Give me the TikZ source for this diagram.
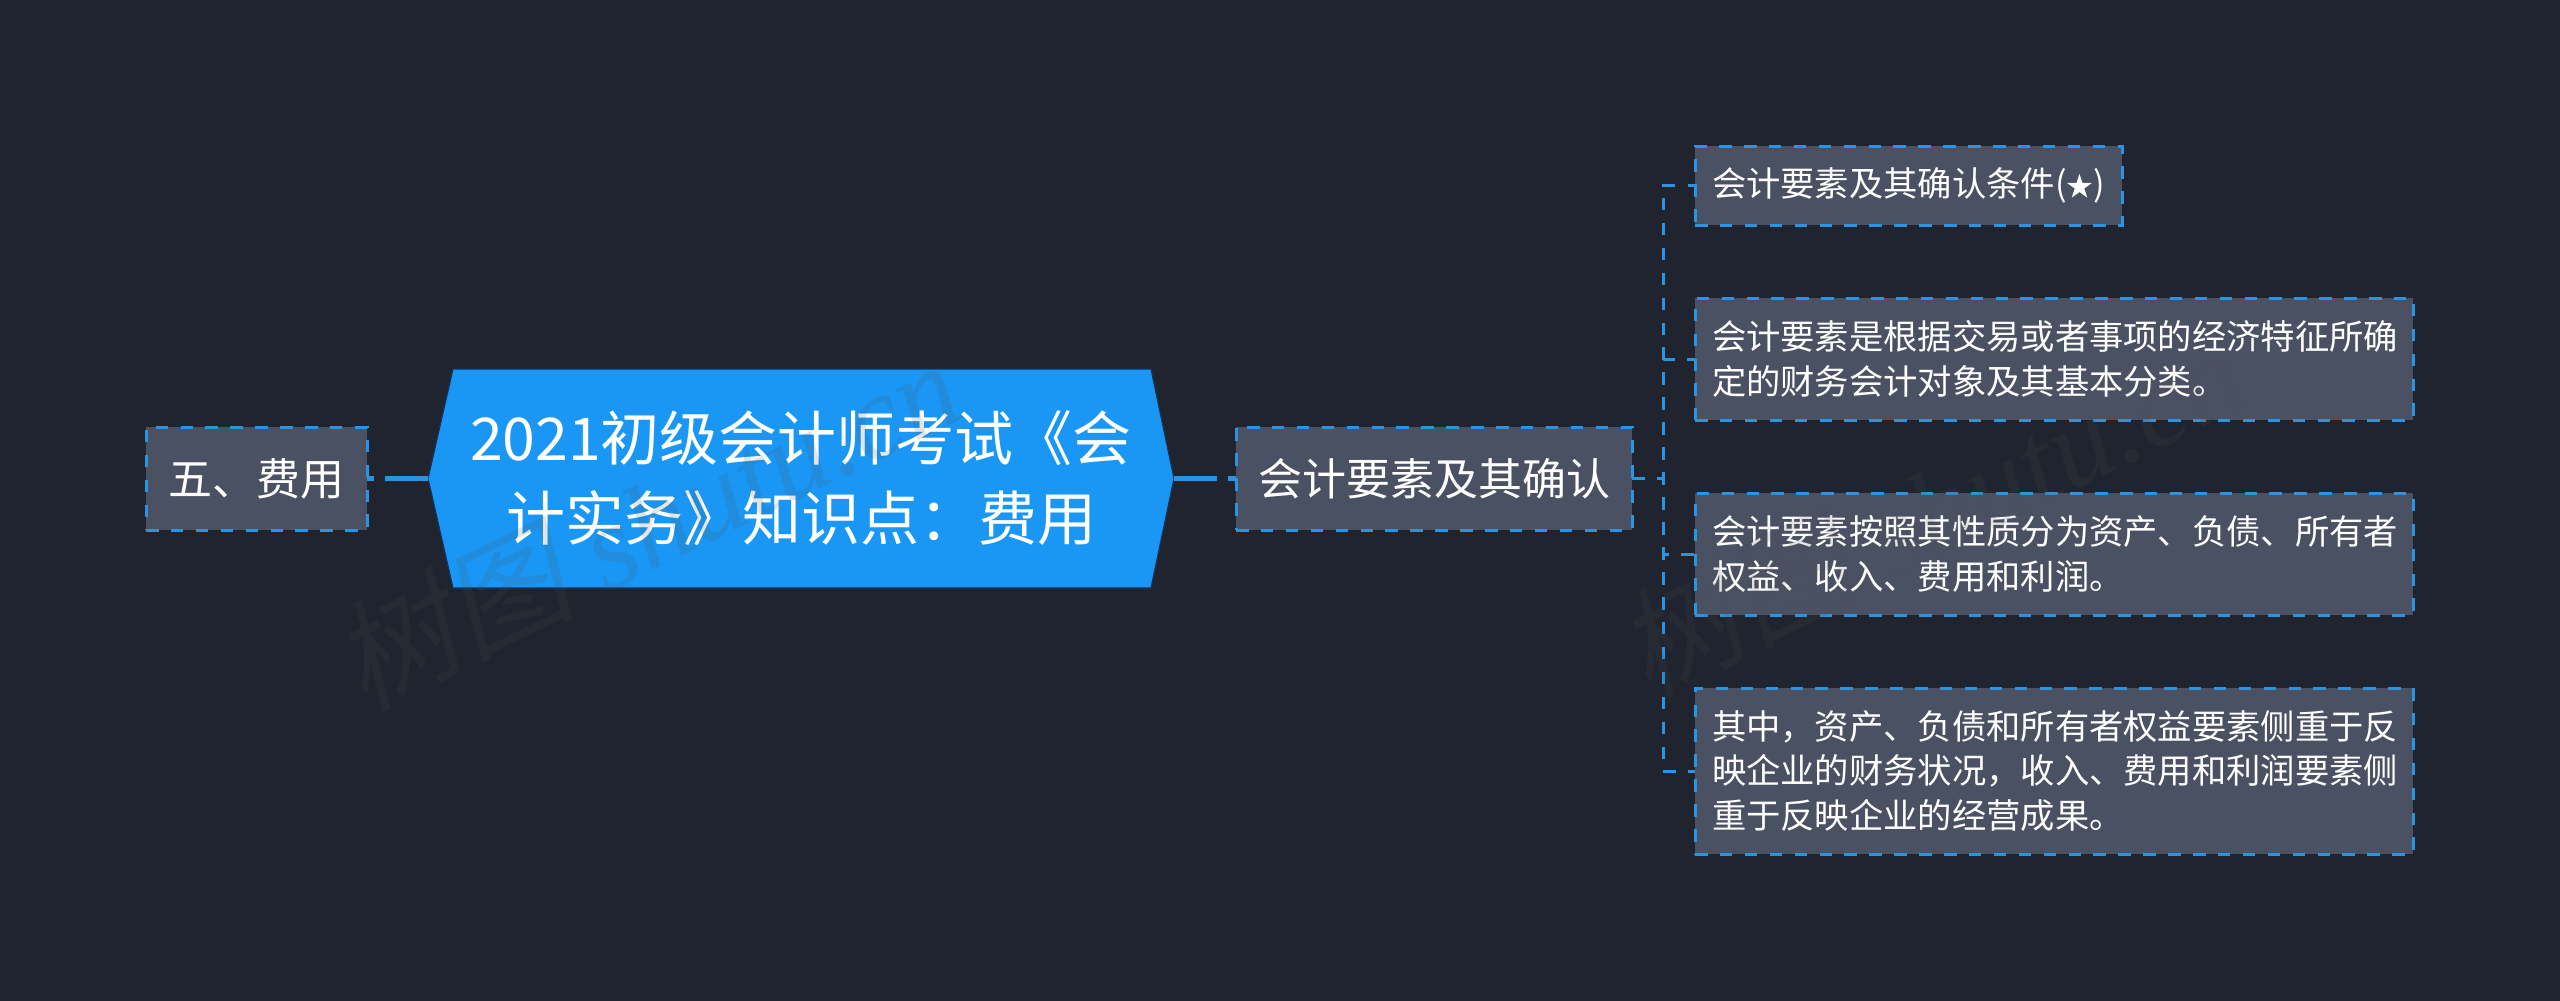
\documentclass[tikz,border=0pt]{standalone}
\usepackage{fontspec}
\setmainfont{Noto Sans CJK SC}
\newfontfamily\wmcjk[FakeSlant=0.2]{Noto Sans CJK SC}
\newfontfamily\wmlat{Liberation Serif Italic}
\usetikzlibrary{calc}
\definecolor{bgc}{HTML}{20242F}
\definecolor{boxc}{HTML}{4A5162}
\definecolor{linec}{HTML}{2A93E2}
\definecolor{rootc}{HTML}{1A97F5}
\definecolor{rootedge}{HTML}{12335A}
\definecolor{markc}{HTML}{4E4E4E}
\tikzset{
  nodebox/.style={draw=linec,fill=boxc,line width=3pt,dash pattern=on 12.5pt off 12.4pt,
    text=white,inner sep=0pt,outer sep=0pt,anchor=north west},
  bigtxt/.style={font=\fontsize{44pt}{56pt}\selectfont,align=center},
  smalltxt/.style={font=\fontsize{34.3pt}{44.5pt}\selectfont,align=left,inner xsep=17pt},
  thick conn/.style={draw=linec,line width=4.4pt,dash pattern=on 43pt off 11pt},
  busline/.style={draw=linec,line width=3pt,dash pattern=on 12.5pt off 12.42pt},
  mark text/.style={text=markc,text opacity=0.15,inner sep=0pt,rotate=26}
}
\begin{document}
\begin{tikzpicture}[x=1pt,y=-1pt]
\useasboundingbox (0,0) rectangle (2560,1001);
\fill[bgc] (0,0) rectangle (2560,1001);
\fill[rootc,draw=rootedge,line width=1.2pt] (453,369) -- (1151,369) -- (1174,478.5) -- (1151,588) -- (453,588) -- (428,478.5) -- cycle;
\node[inner sep=0pt,outer sep=0pt,minimum width=746pt,minimum height=219pt,text=white,align=center,font=\fontsize{59pt}{80pt}\selectfont] (root) at (801,478.5) {2021初级会计师考试《会\\计实务》知识点：费用};
\node[nodebox,bigtxt,minimum width=221pt,minimum height=103pt] (left) at (146,427) {五、费用};
\node[nodebox,bigtxt,minimum width=396pt,minimum height=103pt] (mid) at (1236,427) {会计要素及其确认};
\node[nodebox,smalltxt,minimum width=427pt,minimum height=79pt,text width=393pt] (c1) at (1695,146) {会计要素及其确认条件({\fontsize{27pt}{30pt}\selectfont ★})};
\node[nodebox,smalltxt,minimum width=718pt,minimum height=122pt,text width=684pt] (c2) at (1695,298) {会计要素是根据交易或者事项的经济特征所确\\定的财务会计对象及其基本分类。};
\node[nodebox,smalltxt,minimum width=718pt,minimum height=122pt,text width=684pt] (c3) at (1695,493) {会计要素按照其性质分为资产、负债、所有者\\权益、收入、费用和利润。};
\node[nodebox,smalltxt,minimum width=718pt,minimum height=166pt,text width=684pt] (c4) at (1695,688) {其中，资产、负债和所有者权益要素侧重于反\\映企业的财务状况，收入、费用和利润要素侧\\重于反映企业的经营成果。};
\coordinate (bus) at (1663,478.5);
\draw[thick conn] (root.west) -- (left.east);
\draw[thick conn] (root.east) -- (mid.west);
\draw[busline] (mid.east) -- (bus) |- (c1.west);
\draw[busline] (mid.east) -- (bus) |- (c2.west);
\draw[busline] (mid.east) -- (bus) |- (c3.west);
\draw[busline] (mid.east) -- (bus) |- (c4.west);
\node[mark text] (mark1) at (646,523) {\fontsize{120pt}{120pt}\selectfont\wmcjk 树图\wmlat\ shutu.cn};
\node[mark text] (mark2) at (1930,510) {\fontsize{120pt}{120pt}\selectfont\wmcjk 树图\wmlat\ shutu.cn};
\end{tikzpicture}
\end{document}
